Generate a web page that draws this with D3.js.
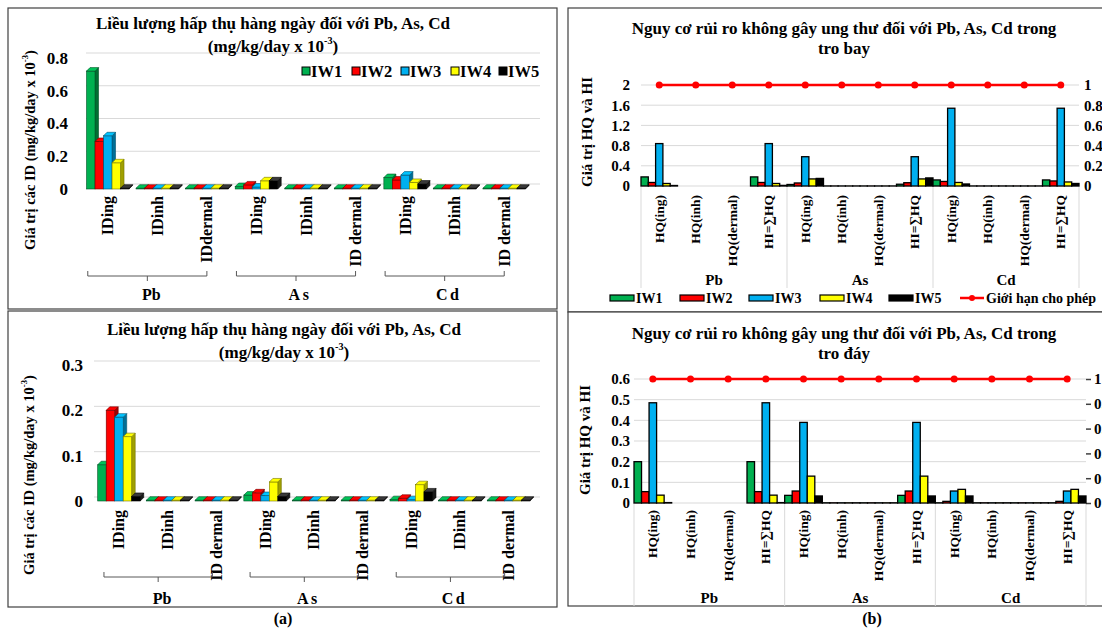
<!DOCTYPE html>
<html><head><meta charset="utf-8">
<script src="https://cdn.jsdelivr.net/npm/d3@7"></script>
<style>
body{margin:0;background:#fff}
svg{display:block}
text{font-family:"Liberation Serif","Times New Roman",serif;font-weight:bold;fill:#000}
</style>
</head><body>
<svg id="c" width="1102" height="629"></svg>
<script>
// ---------- DATA ----------
const seriesNames = ["IW1","IW2","IW3","IW4","IW5"];
const seriesColors = ["#00b050","#ff0000","#00b0f0","#ffff00","#000000"];
const metals = ["Pb","As","Cd"];

const idLabelsFly = ["IDing","IDinh","IDdermal","IDing","IDinh","ID dermal","IDing","IDinh","ID dermal"];
const idLabelsBot = ["IDing","IDinh","ID dermal","IDing","IDinh","ID dermal","IDing","IDinh","ID dermal"];
const idFlyTicks = [0, 0.2, 0.4, 0.6, 0.8];
const idBotTicks = [0, 0.1, 0.2, 0.3];

// Daily intake, fly ash (mg/kg/day x 10^-3)
const idFlyIW1 = [0.72, 0, 0.001, 0.015, 0, 0, 0.07, 0, 0];
const idFlyIW2 = [0.29, 0, 0.001, 0.025, 0, 0, 0.055, 0, 0];
const idFlyIW3 = [0.325, 0, 0.001, 0.012, 0, 0, 0.085, 0, 0];
const idFlyIW4 = [0.16, 0, 0.001, 0.05, 0, 0, 0.04, 0, 0];
const idFlyIW5 = [0.003, 0, 0.001, 0.05, 0, 0, 0.03, 0, 0];

// Daily intake, bottom ash
const idBotIW1 = [0.08, 0, 0, 0.013, 0, 0, 0.003, 0, 0];
const idBotIW2 = [0.2, 0, 0, 0.018, 0, 0, 0.006, 0, 0];
const idBotIW3 = [0.185, 0, 0, 0.012, 0, 0, 0.003, 0, 0];
const idBotIW4 = [0.142, 0, 0, 0.042, 0, 0, 0.036, 0, 0];
const idBotIW5 = [0.01, 0, 0, 0.01, 0, 0, 0.02, 0, 0];

const hqLabels = ["HQ(ing)","HQ(inh)","HQ(dermal)","HI=∑HQ","HQ(ing)","HQ(inh)","HQ(dermal)","HI=∑HQ","HQ(ing)","HQ(inh)","HQ(dermal)","HI=∑HQ"];
const hqFlyTicks = [0, 0.4, 0.8, 1.2, 1.6, 2];
const hqBotTicks = [0, 0.1, 0.2, 0.3, 0.4, 0.5, 0.6];
const limitTicks = [0, 0.2, 0.4, 0.6, 0.8, 1];

// HQ / HI, fly ash
const hqFlyIW1 = [0.18, null, null, 0.18, 0.03, 0.001, 0.001, 0.035, 0.12, 0.001, 0.001, 0.12];
const hqFlyIW2 = [0.07, null, null, 0.07, 0.06, 0.001, 0.001, 0.065, 0.09, 0.001, 0.001, 0.1];
const hqFlyIW3 = [0.84, null, null, 0.84, 0.58, 0.001, 0.001, 0.58, 1.54, 0.001, 0.001, 1.54];
const hqFlyIW4 = [0.05, null, null, 0.05, 0.14, 0.001, 0.001, 0.14, 0.07, 0.001, 0.001, 0.08];
const hqFlyIW5 = [0.01, null, null, 0.012, 0.15, 0.001, 0.001, 0.16, 0.04, 0.001, 0.001, 0.05];

// HQ / HI, bottom ash
const hqBotIW1 = [0.2, null, null, 0.2, 0.037, 0.001, 0.001, 0.037, 0.001, 0.001, 0.001, 0.001];
const hqBotIW2 = [0.055, null, null, 0.055, 0.058, 0.001, 0.001, 0.058, 0.008, 0.001, 0.001, 0.008];
const hqBotIW3 = [0.485, null, null, 0.485, 0.39, 0.001, 0.001, 0.39, 0.058, 0.001, 0.001, 0.058];
const hqBotIW4 = [0.038, null, null, 0.038, 0.13, 0.001, 0.001, 0.13, 0.066, 0.001, 0.001, 0.066];
const hqBotIW5 = [0.002, null, null, 0.002, 0.034, 0.001, 0.001, 0.034, 0.034, 0.001, 0.001, 0.034];

// Permissible limit (secondary axis)
const limitValues = [1, 1, 1, 1, 1, 1, 1, 1, 1, 1, 1, 1];
const limitName = "Giới hạn cho phép";

// ---------- DRAWING ----------
const svg = d3.select("#c");

function addText(g, x, y, str, o = {}) {
  const t = g.append("text").attr("x", x).attr("y", y).text(str)
    .attr("font-size", o.size || 14)
    .attr("text-anchor", o.anchor || "middle")
    .attr("dominant-baseline", o.base || "central");
  if (o.rotate) t.attr("transform", `rotate(${o.rotate},${x},${y})`);
  if (o.ls) t.attr("letter-spacing", o.ls);
  if (o.family) t.attr("font-family", o.family);
  return t;
}
function supText(g, x, y, before, sup, after, size, rotate) {
  const t = g.append("text").attr("x", x).attr("y", y)
    .attr("text-anchor", "middle").attr("dominant-baseline", "central")
    .attr("font-size", size);
  if (rotate) t.attr("transform", `rotate(${rotate},${x},${y})`);
  t.append("tspan").text(before);
  t.append("tspan").text(sup).attr("font-size", size * 0.6).attr("dy", -size * 0.33);
  t.append("tspan").text(after).attr("dy", size * 0.33);
  return t;
}
function styleAxis(ag, size) {
  ag.select(".domain").remove();
  ag.selectAll("text").attr("font-family", '"Liberation Serif","Times New Roman",serif')
    .attr("font-weight", "bold").attr("font-size", size).attr("fill", "#000");
}

function panel3D(c) {
  const g = svg.append("g");
  g.append("rect").attr("x", c.box[0]).attr("y", c.box[1]).attr("width", c.box[2]).attr("height", c.box[3])
    .attr("fill", "#fff").attr("stroke", "#404040").attr("stroke-width", 1.2);
  const x = d3.scaleBand().domain(d3.range(c.labels.length)).range(c.xRange);
  const y = d3.scaleLinear().domain([0, c.max]).range(c.yRange);

  // back-wall gridlines
  g.append("g").selectAll("line").data(c.ticks).join("line")
    .attr("x1", c.gridX[0]).attr("x2", c.gridX[1])
    .attr("y1", d => y(d) + c.gdy).attr("y2", d => y(d) + c.gdy)
    .attr("stroke", "#d9d9d9").attr("stroke-width", 1);

  // value axis labels
  const ag = g.append("g").attr("transform", `translate(${c.tickX},0)`)
    .call(d3.axisLeft(y).tickValues(c.ticks).tickSize(0).tickPadding(0).tickFormat(d => String(d)));
  styleAxis(ag, c.tickSize);

  // 3D bars
  const bw = c.barW, dx = c.depth[0], dy = c.depth[1];
  const bars = g.append("g");
  c.labels.forEach((lab, i) => {
    const cx = x(i) + x.bandwidth() / 2;
    c.data.forEach((arr, s) => {
      const v = arr[i];
      const x0 = cx - 2.5 * bw + s * bw;
      const yb = y(0);
      const yt = Math.min(y(v), yb - 0.8);
      const col = d3.color(seriesColors[s]);
      const side = s === 4 ? "#1a1a1a" : col.darker(1.3);
      const top = s === 4 ? "#3a3a3a" : col.brighter(0.3);
      const edge = s === 4 ? "#000" : col.darker(2.2);
      bars.append("path")
        .attr("d", `M${x0 + bw},${yt}L${x0 + bw + dx},${yt + dy}L${x0 + bw + dx},${yb + dy}L${x0 + bw},${yb}Z`)
        .attr("fill", side).attr("stroke", edge).attr("stroke-width", 0.6);
      bars.append("rect").attr("x", x0).attr("y", yt).attr("width", bw).attr("height", yb - yt)
        .attr("fill", col).attr("stroke", edge).attr("stroke-width", 0.6);
      bars.append("path")
        .attr("d", `M${x0},${yt}L${x0 + dx},${yt + dy}L${x0 + bw + dx},${yt + dy}L${x0 + bw},${yt}Z`)
        .attr("fill", top).attr("stroke", edge).attr("stroke-width", 0.6);
    });
  });

  // category labels
  c.labels.forEach((lab, i) => {
    const cx = x(i) + x.bandwidth() / 2;
    addText(g, cx, c.labelTop, lab, { size: c.catSize, anchor: "end", rotate: -90 });
  });

  // group brackets
  metals.forEach((m, k) => {
    const xa = x(3 * k) + x.bandwidth() / 2 - c.brL;
    const xb = x(3 * k + 2) + x.bandwidth() / 2 + c.brR;
    const xm = (xa + xb) / 2;
    g.append("path").attr("d", `M${xa},${c.brY - 5}L${xa},${c.brY}L${xb},${c.brY}L${xb},${c.brY - 5}M${xm},${c.brY}L${xm},${c.brY + 5}`)
      .attr("fill", "none").attr("stroke", "#595959").attr("stroke-width", 1);
    addText(g, xm + 4, c.grpY, m, { size: 16, ls: k === 0 ? 0 : 2.5 });
  });

  // titles
  addText(g, c.titleX, c.titleY[0], "Liều lượng hấp thụ hàng ngày đối với Pb, As, Cd", { size: 17 });
  supText(g, c.titleX, c.titleY[1], "(mg/kg/day x 10", "-3", ")", 17);
  supText(g, c.yTitle[0], c.yTitle[1], "Giá trị các ID (mg/kg/day  x 10", "-3", ")", 14.5, -90);

  // legend
  if (c.legend) {
    const lg = g.append("g");
    seriesNames.forEach((n, s) => {
      const lx = c.legend.xs[s];
      lg.append("rect").attr("x", lx).attr("y", c.legend.y - 4).attr("width", 8).attr("height", 8)
        .attr("fill", seriesColors[s]).attr("stroke", "#000").attr("stroke-width", 1);
      addText(lg, lx + 9, c.legend.y, n, { size: 16.5, anchor: "start" });
    });
  }
}

function panelCombo(c) {
  const g = svg.append("g");
  g.append("rect").attr("x", c.box[0]).attr("y", c.box[1]).attr("width", c.box[2]).attr("height", c.box[3])
    .attr("fill", "#fff").attr("stroke", "#404040").attr("stroke-width", 1.2);
  const x = d3.scaleBand().domain(d3.range(c.labels.length)).range(c.xRange);
  const yL = d3.scaleLinear().domain([0, c.maxL]).range(c.yRange);
  const yR = d3.scaleLinear().domain([0, 1]).range(c.yRange);

  // gridlines
  g.append("g").selectAll("line").data(c.ticksL).join("line")
    .attr("x1", c.xRange[0]).attr("x2", c.xRange[1])
    .attr("y1", d => yL(d)).attr("y2", d => yL(d))
    .attr("stroke", "#d9d9d9").attr("stroke-width", 1);

  // group dividers
  const divs = [0, 4, 8, 12].map(k => k < 12 ? x(k) : c.xRange[1]);
  g.append("g").selectAll("line").data(divs).join("line")
    .attr("x1", d => d).attr("x2", d => d).attr("y1", yL(0)).attr("y2", c.divBottom)
    .attr("stroke", "#d9d9d9").attr("stroke-width", 1);

  // axes
  const al = g.append("g").attr("transform", `translate(${c.tickLX},0)`)
    .call(d3.axisLeft(yL).tickValues(c.ticksL).tickSize(0).tickPadding(0).tickFormat(d => String(d)));
  styleAxis(al, 15);
  const ar = g.append("g").attr("transform", `translate(${c.xRange[1]},0)`)
    .call(d3.axisRight(yR).tickValues(limitTicks).tickSize(c.rightTick).tickPadding(c.rightPad).tickFormat(d => String(d)));
  styleAxis(ar, 15);
  ar.selectAll("line").attr("stroke", "#404040").attr("stroke-width", 1.5);

  // bars
  const bw = x.bandwidth() / 5;
  const bars = g.append("g");
  c.labels.forEach((lab, i) => {
    c.data.forEach((arr, s) => {
      const v = arr[i];
      if (v === null) return;
      bars.append("rect").attr("x", x(i) + s * bw).attr("y", yL(v))
        .attr("width", bw).attr("height", Math.max(yL(0) - yL(v), 0.01))
        .attr("fill", seriesColors[s]).attr("stroke", "#000").attr("stroke-width", 1.3);
    });
  });

  // limit line
  const cxf = i => x(i) + x.bandwidth() / 2;
  g.append("path").datum(limitValues)
    .attr("d", d3.line().x((d, i) => cxf(i)).y(d => yR(d)))
    .attr("fill", "none").attr("stroke", "#ff0000").attr("stroke-width", 2.5);
  g.append("g").selectAll("circle").data(limitValues).join("circle")
    .attr("cx", (d, i) => cxf(i)).attr("cy", d => yR(d)).attr("r", 3.5).attr("fill", "#ff0000");

  // category labels
  c.labels.forEach((lab, i) => {
    addText(g, cxf(i), c.labelTop, lab, { size: 13.5, anchor: "end", rotate: -90 });
  });
  metals.forEach((m, k) => {
    addText(g, (divs[k] + divs[k + 1]) / 2, c.grpY, m, { size: 15 });
  });

  // titles
  addText(g, c.titleX, c.titleY[0], "Nguy cơ rủi ro không gây ung thư đối với Pb, As, Cd trong", { size: 17 });
  addText(g, c.titleX, c.titleY[1], c.title2, { size: 17 });
  addText(g, c.yTitle[0], c.yTitle[1], "Giá trị HQ và HI", { size: 15, rotate: -90 });

  // legend
  if (c.legend) {
    const lg = g.append("g");
    seriesNames.forEach((n, s) => {
      const lx = c.legend.xs[s];
      lg.append("rect").attr("x", lx).attr("y", c.legend.y - 3).attr("width", 24).attr("height", 6)
        .attr("fill", seriesColors[s]).attr("stroke", "#000").attr("stroke-width", 1.2);
      addText(lg, lx + 26, c.legend.y, n, { size: 14, anchor: "start" });
    });
    const lx = c.legend.xs[5];
    lg.append("line").attr("x1", lx).attr("x2", lx + 24).attr("y1", c.legend.y).attr("y2", c.legend.y)
      .attr("stroke", "#ff0000").attr("stroke-width", 2.5);
    lg.append("circle").attr("cx", lx + 12).attr("cy", c.legend.y).attr("r", 3).attr("fill", "#ff0000");
    addText(lg, lx + 26, c.legend.y, limitName, { size: 14, anchor: "start" });
  }
}

// Panel (a) top: fly ash daily intake
panel3D({
  box: [8, 8, 549, 301],
  labels: idLabelsFly,
  data: [idFlyIW1, idFlyIW2, idFlyIW3, idFlyIW4, idFlyIW5],
  xRange: [83, 529], yRange: [189, 58], max: 0.8, ticks: idFlyTicks,
  gridX: [86, 540], gdy: -5, tickX: 68, tickSize: 17,
  barW: 8.5, depth: [3.5, -3.5],
  labelTop: 196, catSize: 16,
  brL: 20, brR: 0, brY: 276, grpY: 294,
  titleX: 273, titleY: [23, 46],
  yTitle: [30, 150],
  legend: { y: 71, xs: [302, 352, 401, 451, 499] }
});

// Panel (a) bottom: bottom ash daily intake
panel3D({
  box: [8, 311, 549, 296],
  labels: idLabelsBot,
  data: [idBotIW1, idBotIW2, idBotIW3, idBotIW4, idBotIW5],
  xRange: [94.6, 533], yRange: [501, 365], max: 0.3, ticks: idBotTicks,
  gridX: [94, 540], gdy: -4, tickX: 83, tickSize: 17,
  barW: 8.5, depth: [3.5, -3.5],
  labelTop: 510, catSize: 16,
  brL: 15, brR: -4, brY: 577, grpY: 598,
  titleX: 284, titleY: [329, 352],
  yTitle: [29, 475],
  legend: null
});

// Panel (b) top: fly ash HQ/HI
panelCombo({
  box: [568, 8, 600, 304],
  labels: hqLabels,
  data: [hqFlyIW1, hqFlyIW2, hqFlyIW3, hqFlyIW4, hqFlyIW5],
  xRange: [641, 1079], yRange: [186, 85], maxL: 2, ticksL: hqFlyTicks,
  tickLX: 630, rightTick: 0, rightPad: 5,
  divBottom: 288, labelTop: 195, grpY: 280,
  titleX: 844, titleY: [28, 48], title2: "tro bay",
  yTitle: [587, 132],
  legend: { y: 298, xs: [610, 680, 749, 820, 889, 960] }
});

// Panel (b) bottom: bottom ash HQ/HI
panelCombo({
  box: [568, 312, 600, 294],
  labels: hqLabels,
  data: [hqBotIW1, hqBotIW2, hqBotIW3, hqBotIW4, hqBotIW5],
  xRange: [634, 1086], yRange: [503, 379], maxL: 0.6, ticksL: hqBotTicks,
  tickLX: 630, rightTick: 5, rightPad: 3,
  divBottom: 606, labelTop: 510, grpY: 598,
  titleX: 844, titleY: [333, 353], title2: "tro đáy",
  yTitle: [585, 440],
  legend: null
});

addText(svg, 283, 618, "(a)", { size: 16, family: '"Liberation Sans",Arial,sans-serif' });
addText(svg, 872, 618, "(b)", { size: 16, family: '"Liberation Sans",Arial,sans-serif' });
</script>
</body></html>
